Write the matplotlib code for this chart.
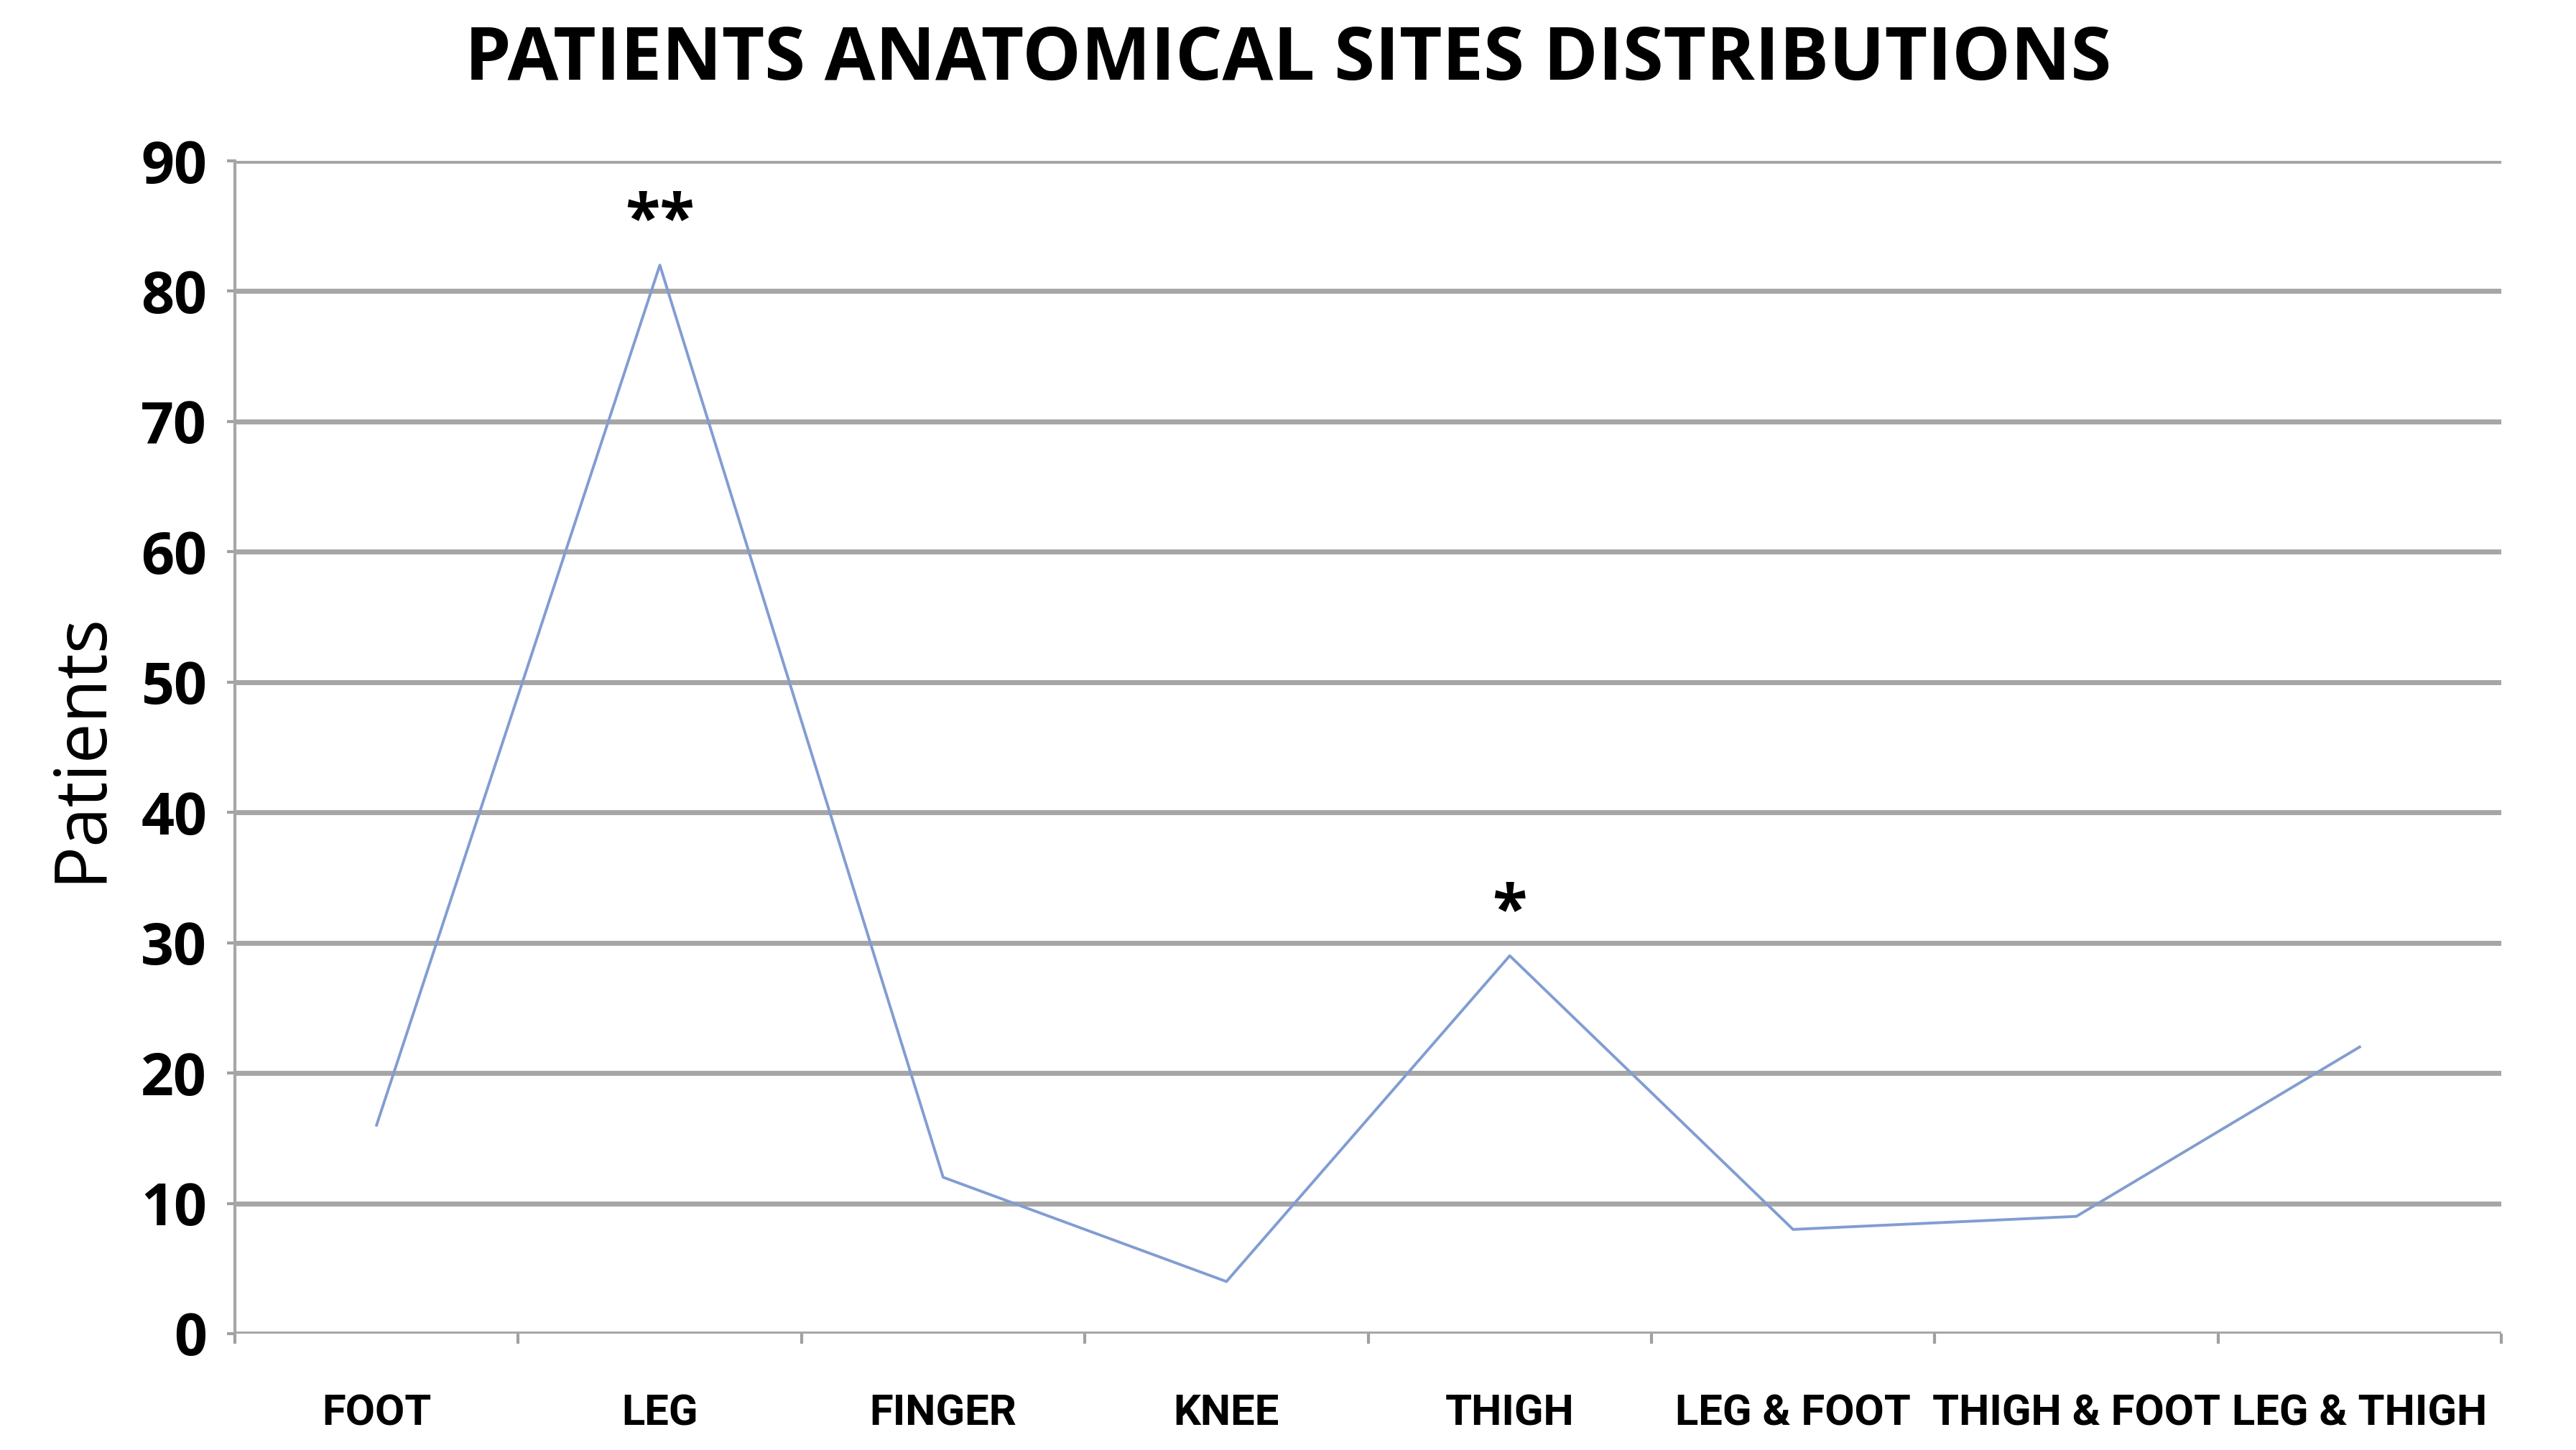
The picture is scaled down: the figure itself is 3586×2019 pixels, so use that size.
import matplotlib
matplotlib.use("Agg")
import matplotlib.pyplot as plt
import numpy as np

sites = ["FOOT", "LEG", "FINGER", "KNEE", "THIGH", "LEG & FOOT", "THIGH & FOOT", "LEG & THIGH"]
patients = [16, 82, 12, 4, 29, 8, 9, 22]
marks = ["", "**", "", "", "*", "", "", ""]
yticks = [0, 10, 20, 30, 40, 50, 60, 70, 80, 90]

plt.rcParams["font.family"] = ["Open Sans", "DejaVu Sans"]

fig = plt.figure(figsize=(35.87, 20.19), dpi=100)
ax = fig.add_axes([327 / 3587, 1 - 1857 / 2019, (3482 - 327) / 3587, (1857 - 224) / 2019])

x = np.arange(len(sites))
ax.plot(x, patients, color="#819dd2", lw=2.8)

for xi, yi, m in zip(x, patients, marks):
    if m:
        ax.annotate(m, (xi, yi), xytext=(0, 10), textcoords="offset points",
                    ha="center", va="bottom", fontsize=64, fontweight="bold")

ax.set_xlim(-0.5, len(sites) - 0.5)
ax.set_ylim(0, 90)
ax.set_yticks(yticks)
ax.set_yticklabels([str(t) for t in yticks], fontsize=58, fontweight="bold")
ax.set_xticks(x)
ax.set_xticklabels(sites, fontsize=43, fontweight="bold", family=["Roboto", "DejaVu Sans"])
ax.set_xticks(np.arange(len(sites) + 1) - 0.5, minor=True)
ax.tick_params(axis="x", which="major", length=0, pad=60)
ax.tick_params(axis="x", which="minor", length=10, width=3, color="#a0a0a0")
ax.tick_params(axis="y", length=8, width=3, color="#a0a0a0", pad=20)

ax.grid(axis="y", color="#a6a6a6", lw=5)
ax.set_axisbelow(True)
for s in ["top", "right"]:
    ax.spines[s].set_visible(False)
ax.spines["bottom"].set_visible(False)
ax.spines["left"].set_color("#a6a6a6")
ax.spines["left"].set_linewidth(3)

ax.set_ylabel("Patients", fontsize=72, labelpad=24)
fig.text(0.5, 1 - 84 / 2019, "PATIENTS ANATOMICAL SITES DISTRIBUTIONS", ha="center", va="center",
         fontsize=74, fontweight="bold")

fig.savefig("out.png", dpi=100, facecolor="white")
